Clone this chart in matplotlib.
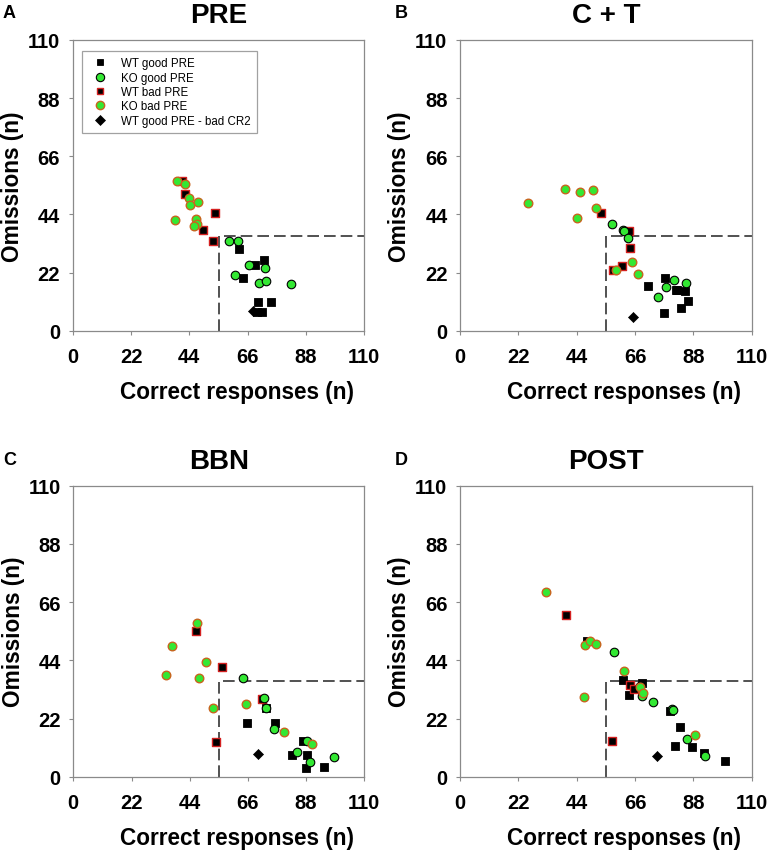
import matplotlib
matplotlib.use("Agg")
import matplotlib.pyplot as plt
from matplotlib.lines import Line2D

plt.rcParams['font.family'] = ['Liberation Sans', 'DejaVu Sans']

# ---------------- data ----------------
titles = ["PRE", "C + T", "BBN", "POST"]
letters = ["A", "B", "C", "D"]
ticks = [0, 22, 44, 66, 88, 110]
thr_correct = 55
thr_omis = 36

# Panel A (PRE)
A_wt_good_x = [62.9, 68.6, 72.2, 64.4, 69.8, 74.8, 71.5, 69.6]
A_wt_good_y = [31.0, 25.0, 26.6, 20.1, 11.0, 10.7, 7.2, 6.9]
A_ko_good_x = [59.1, 62.2, 66.4, 72.5, 61.3, 70.1, 72.9, 82.5]
A_ko_good_y = [33.8, 34.0, 25.0, 23.8, 21.1, 18.0, 18.9, 17.7]
A_wt_bad_x = [41.2, 42.5, 53.7, 49.3, 52.8]
A_wt_bad_y = [56.7, 51.7, 44.6, 38.1, 34.0]
A_ko_bad_x = [39.5, 42.5, 43.7, 44.4, 47.1, 38.5, 46.4, 47.0, 45.9]
A_ko_bad_y = [56.7, 55.4, 50.3, 47.7, 48.7, 41.7, 42.1, 40.4, 39.8]
A_cr2_x = [67.9]
A_cr2_y = [7.6]

# Panel B (C + T)
B_wt_good_x = [70.9, 77.4, 81.5, 82.0, 84.9, 85.9, 83.3, 76.9]
B_wt_good_y = [16.9, 20.1, 15.3, 15.5, 15.1, 11.3, 8.6, 6.7]
B_ko_good_x = [57.2, 61.3, 61.8, 63.5, 80.7, 77.8, 85.1, 74.8]
B_ko_good_y = [40.5, 38.2, 37.7, 34.9, 19.3, 16.6, 18.0, 12.7]
B_wt_bad_x = [53.2, 63.6, 64.2, 61.2, 57.7]
B_wt_bad_y = [44.6, 37.6, 31.3, 24.6, 23.1]
B_ko_bad_x = [25.5, 39.6, 45.3, 50.2, 51.4, 44.1, 64.9, 67.3, 58.8]
B_ko_bad_y = [48.4, 53.5, 52.5, 53.1, 46.4, 42.7, 25.9, 21.4, 22.8]
B_cr2_x = [65.4]
B_cr2_y = [5.0]

# Panel C (BBN)
C_wt_good_x = [65.7, 72.8, 76.3, 86.9, 82.6, 88.2, 88.0, 94.7]
C_wt_good_y = [20.4, 25.8, 20.4, 13.6, 8.3, 8.3, 3.1, 3.7]
C_ko_good_x = [64.2, 72.0, 73.0, 75.9, 84.6, 88.3, 89.3, 98.7]
C_ko_good_y = [37.4, 29.8, 26.1, 18.1, 9.4, 13.4, 5.4, 7.4]
C_wt_bad_x = [46.2, 56.3, 53.8, 71.4]
C_wt_bad_y = [54.9, 41.4, 13.3, 29.5]
C_ko_bad_x = [46.7, 37.4, 50.0, 35.0, 47.4, 52.9, 65.4, 79.6, 90.4]
C_ko_bad_y = [58.1, 49.4, 43.5, 38.4, 37.2, 25.8, 27.3, 17.0, 12.5]
C_cr2_x = [70.0]
C_cr2_y = [8.7]

# Panel D (POST)
D_wt_good_x = [47.8, 61.5, 68.5, 63.7, 79.1, 83.1, 81.1, 87.5, 91.9, 99.8]
D_wt_good_y = [51.3, 36.4, 35.4, 31.0, 24.7, 18.8, 11.5, 11.1, 9.1, 5.8]
D_ko_good_x = [58.1, 67.9, 68.5, 72.7, 79.8, 80.2, 85.5, 92.5]
D_ko_good_y = [47.1, 34.1, 30.4, 28.3, 25.7, 25.3, 14.4, 7.7]
D_wt_bad_x = [39.8, 57.2, 64.2, 65.6]
D_wt_bad_y = [61.3, 13.4, 34.5, 33.2]
D_ko_bad_x = [32.4, 47.0, 49.2, 51.4, 46.8, 61.7, 67.8, 68.9, 88.8]
D_ko_bad_y = [70.0, 49.7, 51.4, 50.1, 30.2, 39.8, 33.9, 31.5, 15.9]
D_cr2_x = [74.2]
D_cr2_y = [7.8]

panels = [
    (A_wt_good_x, A_wt_good_y, A_ko_good_x, A_ko_good_y, A_wt_bad_x, A_wt_bad_y, A_ko_bad_x, A_ko_bad_y, A_cr2_x, A_cr2_y),
    (B_wt_good_x, B_wt_good_y, B_ko_good_x, B_ko_good_y, B_wt_bad_x, B_wt_bad_y, B_ko_bad_x, B_ko_bad_y, B_cr2_x, B_cr2_y),
    (C_wt_good_x, C_wt_good_y, C_ko_good_x, C_ko_good_y, C_wt_bad_x, C_wt_bad_y, C_ko_bad_x, C_ko_bad_y, C_cr2_x, C_cr2_y),
    (D_wt_good_x, D_wt_good_y, D_ko_good_x, D_ko_good_y, D_wt_bad_x, D_wt_bad_y, D_ko_bad_x, D_ko_bad_y, D_cr2_x, D_cr2_y),
]

# ---------------- style ----------------
GREEN = '#33e833'
RED = '#d42020'
ORANGE = '#c8641e'
GRAY = '#8a8a8a'
SQ = 28
CI = 38

W, H = 768, 853
fig = plt.figure(figsize=(W / 100, H / 100), dpi=100)

boxes = [
    (72.7, 41.0, 364.3, 331.7),
    (460.0, 41.0, 751.7, 331.7),
    (73.3, 486.7, 364.3, 777.7),
    (460.0, 486.7, 751.7, 777.7),
]
letter_pos = [(3, 14), (395, 14), (3, 461), (395, 461)]

for i, (bx, d) in enumerate(zip(boxes, panels)):
    x0, y0, x1, y1 = bx
    ax = fig.add_axes([x0 / W, 1 - y1 / H, (x1 - x0) / W, (y1 - y0) / H])
    wgx, wgy, kgx, kgy, wbx, wby, kbx, kby, dx, dy = d

    ax.plot([thr_correct, thr_correct, 110], [0, thr_omis, thr_omis],
            color='#333333', lw=1.2, ls=(0, (7, 3)), zorder=1)

    ax.scatter(wgx, wgy, marker='s', s=SQ, c='black', edgecolors='black', linewidths=0.6, zorder=3,
               label='WT good PRE')
    ax.scatter(wbx, wby, marker='s', s=SQ, c='black', edgecolors=RED, linewidths=1.0, zorder=3,
               label='WT bad PRE')
    ax.scatter(kgx, kgy, marker='o', s=CI, c=GREEN, edgecolors='black', linewidths=0.8, zorder=4,
               label='KO good PRE')
    ax.scatter(kbx, kby, marker='o', s=CI, c=GREEN, edgecolors=ORANGE, linewidths=1.0, zorder=4,
               label='KO bad PRE')
    ax.scatter(dx, dy, marker='D', s=26, c='black', edgecolors='black', linewidths=0.5, zorder=5,
               label='WT good PRE - bad CR2')

    ax.set_xlim(0, 110)
    ax.set_ylim(0, 110)
    ax.set_xticks(ticks)
    ax.set_yticks(ticks)
    ax.set_xticklabels([str(t) for t in ticks], fontsize=14.5, fontweight='bold')
    ax.set_yticklabels([str(t) for t in ticks], fontsize=14.5, fontweight='bold')
    ax.tick_params(axis='both', direction='out', length=3, width=0.8, color=GRAY)
    ax.tick_params(axis='x', pad=9)
    ax.tick_params(axis='y', pad=6)
    for sp in ax.spines.values():
        sp.set_color(GRAY)
        sp.set_linewidth(0.9)

    ax.set_title(titles[i], fontsize=20, fontweight='bold', pad=13)
    ax.set_xlabel('Correct responses (n)', fontsize=16.3, fontweight='bold')
    ax.set_ylabel('Omissions (n)', fontsize=16.3, fontweight='bold')
    ax.xaxis.set_label_coords(0.562, -0.21)
    ax.xaxis.label.set_va('center')
    ax.yaxis.set_label_coords(-0.206, 0.5)
    ax.yaxis.label.set_va('center')

    fig.text(letter_pos[i][0] / W, 1 - letter_pos[i][1] / H, letters[i], fontsize=13,
             fontweight='bold', ha='left', va='center')

    if i == 0:
        h = [
            Line2D([], [], ls='none', marker='s', ms=5, mfc='black', mec='black', mew=0.6),
            Line2D([], [], ls='none', marker='o', ms=6, mfc=GREEN, mec='black', mew=0.8),
            Line2D([], [], ls='none', marker='s', ms=5, mfc='black', mec=RED, mew=1.0),
            Line2D([], [], ls='none', marker='o', ms=6, mfc=GREEN, mec=ORANGE, mew=1.0),
            Line2D([], [], ls='none', marker='D', ms=5, mfc='black', mec='black', mew=0.5),
        ]
        labels = ['WT good PRE', 'KO good PRE', 'WT bad PRE', 'KO bad PRE', 'WT good PRE - bad CR2']
        leg = ax.legend(h, labels, loc='upper left', bbox_to_anchor=(0.032, 0.962), borderaxespad=0,
                        fontsize=8.3, frameon=True, fancybox=False, edgecolor=GRAY,
                        labelspacing=0.2, handlelength=2.1, handletextpad=0.75, borderpad=0.55)
        leg.get_frame().set_linewidth(0.9)

fig.savefig('out.png', dpi=100)
